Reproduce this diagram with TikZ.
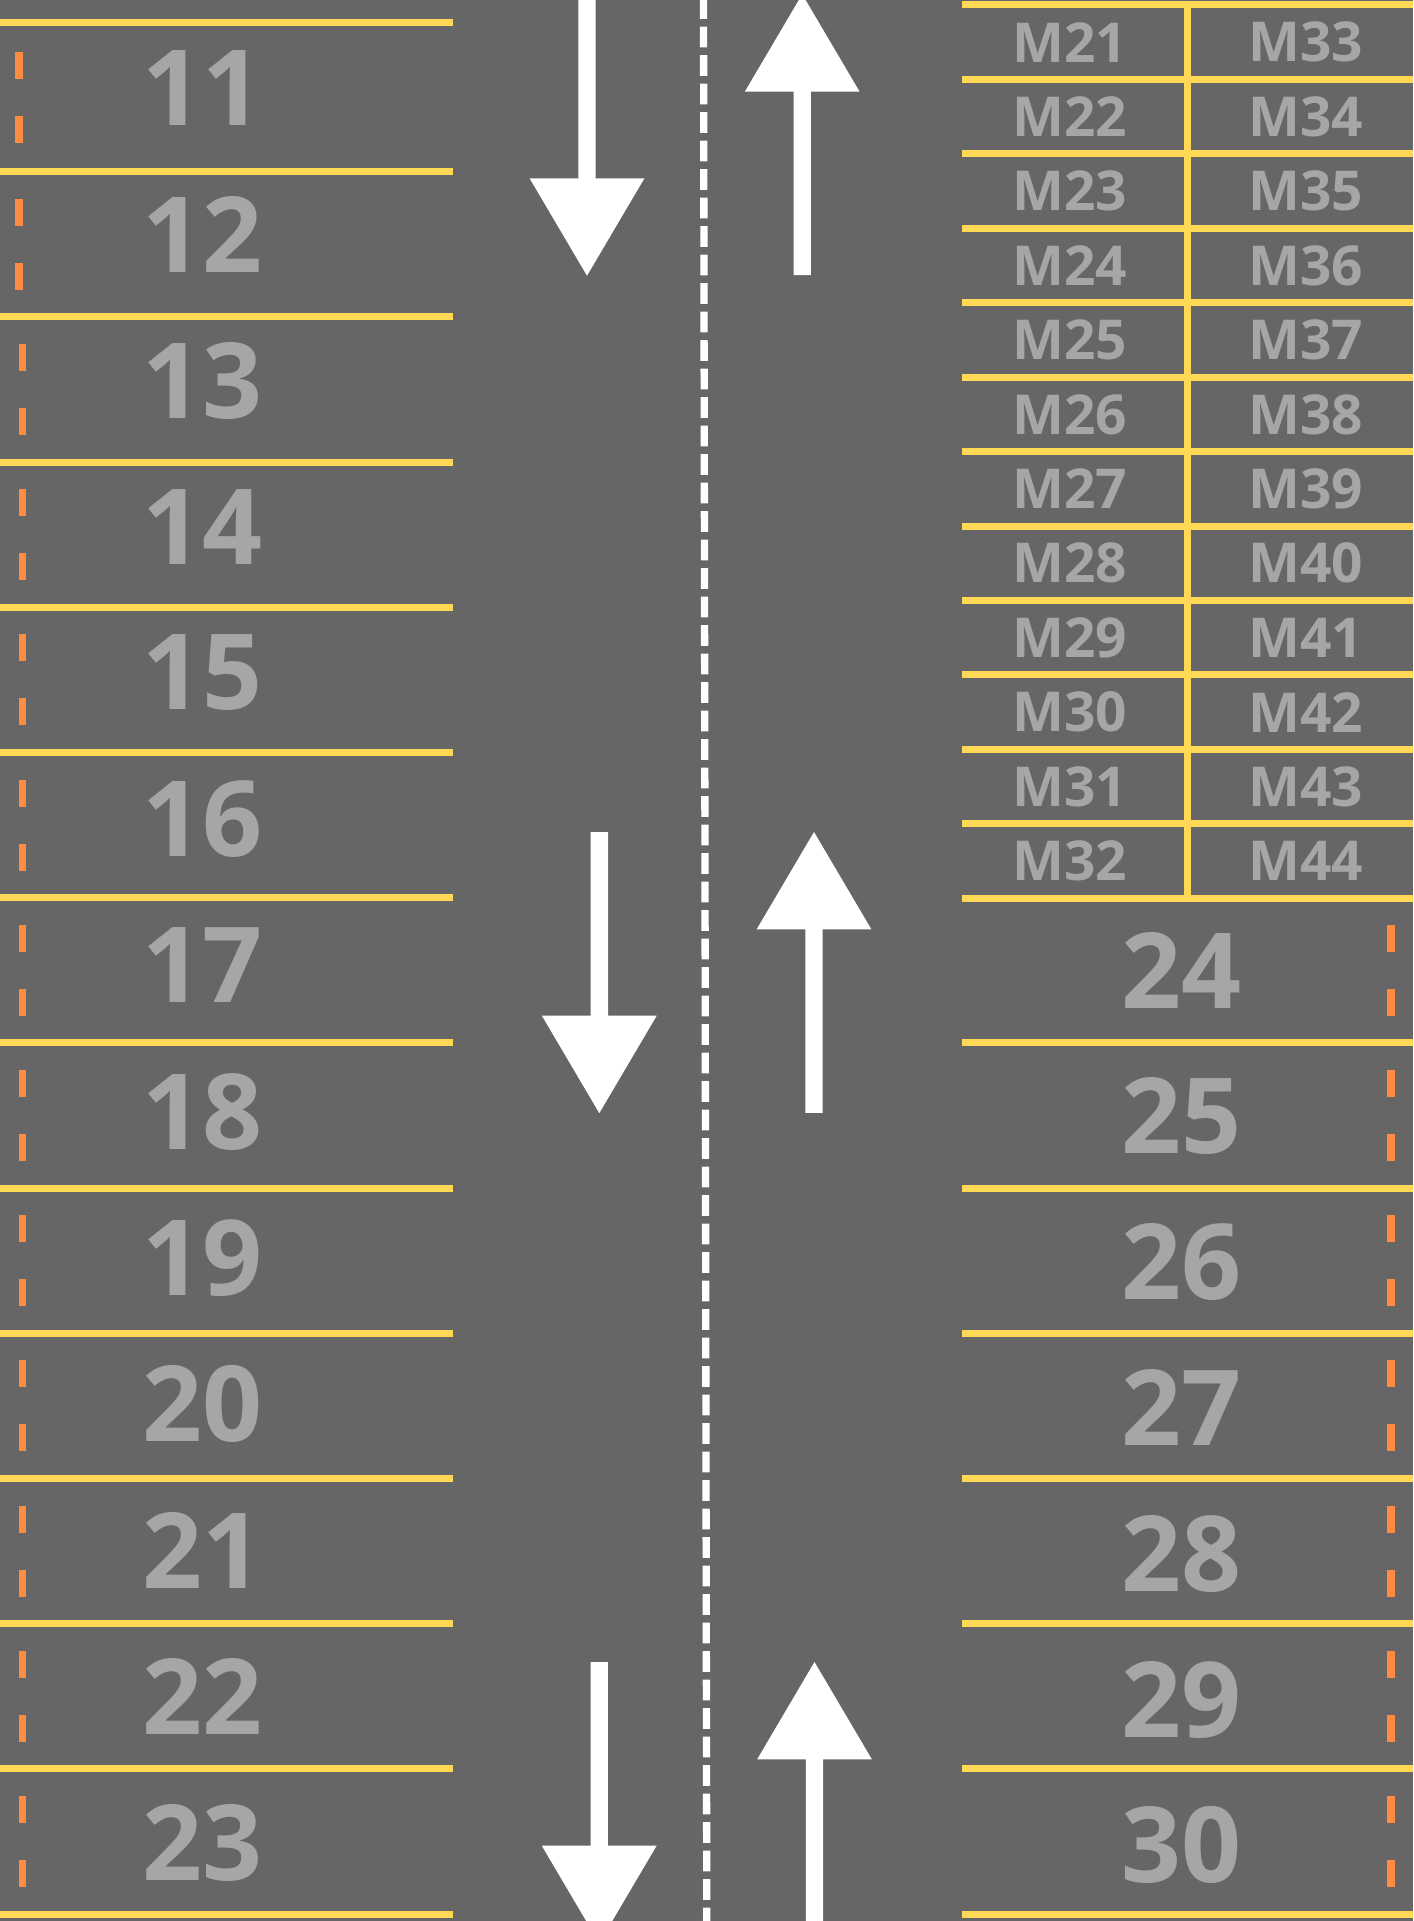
\documentclass[tikz,border=0pt]{standalone}
\usepackage{fontspec}
\setmainfont{Open Sans}
\definecolor{road}{HTML}{666666}
\definecolor{lineY}{HTML}{FFD955}
\definecolor{dashO}{HTML}{FF8C42}
\definecolor{txt}{HTML}{A6A6A6}
\begin{document}
\begin{tikzpicture}[x=1pt,y=-1pt,
  yline/.style={draw=lineY,line width=7pt},
  odash/.style={draw=dashO,line width=7.5pt},
  bignum/.style={text=txt,font=\bfseries\fontsize{105}{105}\selectfont,inner sep=0pt},
  mnum/.style={text=txt,font=\bfseries\fontsize{55}{55}\selectfont,inner sep=0pt},
  arrowfill/.style={fill=white},
  cdash/.style={draw=white,line width=7.3pt,dash pattern=on 20.7pt off 7.8pt}]
\fill[road] (0,0) rectangle (1413,1921);
\useasboundingbox (0,0) rectangle (1413,1921);
\clip (0,0) rectangle (1413,1921);

% left parking lines
\draw[yline] (0,23) -- (452.5,23);
\foreach \i in {0,...,12} \draw[yline] (0,{171.7+145.2*\i}) -- (452.5,{171.7+145.2*\i});
% left numbers
\foreach \n [count=\i from 0] in {11,...,23} \node[bignum] (L\n) at (202,{88+146.25*\i}) {\n};
% left orange dashes
\foreach \c/\x in {97.35/19, 244.3/19} {
  \draw[odash] (\x,\c-45.5) -- (\x,\c-18.5);
  \draw[odash] (\x,\c+18.5) -- (\x,\c+45.5);
}
\foreach \k in {2,...,12} {
  \draw[odash] (22.5,{244.3+145.2*(\k-1)-45.5}) -- (22.5,{244.3+145.2*(\k-1)-18.5});
  \draw[odash] (22.5,{244.3+145.2*(\k-1)+18.5}) -- (22.5,{244.3+145.2*(\k-1)+45.5});
}

% right M grid
\foreach \k in {0,...,12} \draw[yline] (961.7,{5+74.44*\k}) -- (1413,{5+74.44*\k});
\draw[yline] (1187.7,5) -- (1187.7,898.3);
\foreach \k in {0,...,11} {
  \pgfmathtruncatemacro{\a}{21+\k}
  \pgfmathtruncatemacro{\b}{33+\k}
  \node[mnum] (M\a) at (1070,{5+74.44*\k+37.2}) {M\a};
  \node[mnum] (M\b) at (1306,{5+74.44*\k+37.2}) {M\b};
}
% right big rows
\foreach \j in {1,...,7} \draw[yline] (961.7,{897.7+145.2*\j}) -- (1413,{897.7+145.2*\j});
\foreach \n [count=\j from 0] in {24,...,30} \node[bignum] (R\n) at (1181,{970+145.9*\j}) {\n};
\foreach \j in {0,...,6} {
  \draw[odash] (1391,{970.3+145.2*\j-45.5}) -- (1391,{970.3+145.2*\j-18.5});
  \draw[odash] (1391,{970.3+145.2*\j+18.5}) -- (1391,{970.3+145.2*\j+45.5});
}

% centre dashed line
\draw[cdash] (703.5,-1.8) -- (706.8,1925);

% down arrows
\foreach \cx/\yo in {587/-5.4, 599.3/832, 599.2/1662} {
  \fill[arrowfill] (\cx-8.7,\yo) -- (\cx+8.7,\yo) -- (\cx+8.7,\yo+183.7) -- (\cx+57.4,\yo+183.7)
    -- (\cx,\yo+281.1) -- (\cx-57.4,\yo+183.7) -- (\cx-8.7,\yo+183.7) -- cycle;
}
% up arrows
\foreach \cx/\ty in {802.2/-5.7, 814/832, 814.5/1662} {
  \fill[arrowfill] (\cx,\ty) -- (\cx+57.4,\ty+97.4) -- (\cx+8.7,\ty+97.4) -- (\cx+8.7,\ty+280.8)
    -- (\cx-8.7,\ty+280.8) -- (\cx-8.7,\ty+97.4) -- (\cx-57.4,\ty+97.4) -- cycle;
}
\end{tikzpicture}
\end{document}
